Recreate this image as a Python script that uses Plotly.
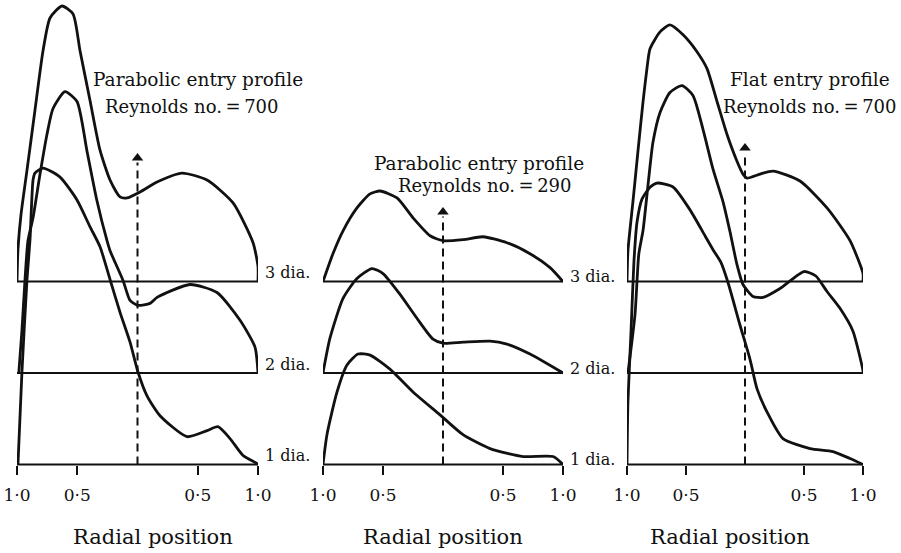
import plotly.graph_objects as go

# ---------------- data (radial position r: -1 = left wall, +1 = right wall;
# v = velocity height above each station's baseline, in baseline-spacing units)
STATIONS = ["1 dia.", "2 dia.", "3 dia."]
STATION_OFFSET = [0.0, 1.0, 2.0]

# Panel 1: Parabolic entry profile, Re = 700
P1_R1 = [-0.992, -0.959, -0.917, -0.892, -0.867, -0.851, -0.784, -0.643, -0.502, -0.394, -0.311, -0.228,
         -0.145, -0.062, 0.004, 0.079, 0.187, 0.411, 0.577, 0.668, 0.768, 0.876, 0.992, 1.0]
P1_V1 = [0.0, 1.011, 2.022, 2.457, 3.109, 3.185, 3.239, 3.141, 2.891, 2.598, 2.380, 2.022,
         1.663, 1.337, 1.011, 0.750, 0.533, 0.304, 0.370, 0.413, 0.283, 0.098, 0.011, 0.0]
P1_R2 = [-0.985, -0.959, -0.934, -0.909, -0.867, -0.809, -0.751, -0.701, -0.602, -0.502, -0.419, -0.336,
         -0.253, -0.228, -0.120, -0.062, 0.004, 0.104, 0.162, 0.436, 0.660, 0.851, 0.975, 1.0]
P1_V2 = [0.0, 0.467, 1.011, 1.446, 1.696, 2.174, 2.609, 2.891, 3.076, 2.967, 2.424, 1.880,
         1.446, 1.337, 1.011, 0.793, 0.739, 0.761, 0.826, 0.967, 0.880, 0.576, 0.283, 0.0]
P1_R3 = [-1.0, -0.992, -0.967, -0.917, -0.851, -0.784, -0.726, -0.627, -0.535, -0.477, -0.394,
         -0.311, -0.228, -0.145, -0.087, 0.021, 0.162, 0.369, 0.577, 0.793, 0.959, 1.0, 1.0]
P1_V3 = [0.0, 0.348, 0.728, 1.217, 1.870, 2.522, 2.880, 3.011, 2.924, 2.522, 1.978,
         1.435, 1.109, 0.924, 0.913, 0.978, 1.087, 1.185, 1.109, 0.859, 0.424, 0.163, 0.0]

# Panel 2: Parabolic entry profile, Re = 290
P2_R1 = [-1.0, -0.967, -0.883, -0.800, -0.708, -0.608, -0.442, -0.250, -0.025, 0.167, 0.392, 0.667, 0.917, 1.0]
P2_V1 = [0.0, 0.326, 0.793, 1.087, 1.207, 1.196, 1.043, 0.793, 0.543, 0.326, 0.174, 0.087, 0.087, 0.0]
P2_R2 = [-1.0, -0.942, -0.833, -0.717, -0.592, -0.500, -0.358, -0.217, -0.083, 0.0, 0.167, 0.392, 0.533, 0.725, 1.0]
P2_V2 = [0.0, 0.380, 0.815, 1.033, 1.141, 1.087, 0.859, 0.598, 0.370, 0.326, 0.337, 0.348, 0.315, 0.207, 0.0]
P2_R3 = [-1.0, -0.917, -0.833, -0.717, -0.608, -0.525, -0.383, -0.250, -0.108, 0.0, 0.167, 0.333, 0.533, 0.725, 0.892, 1.0]
P2_V3 = [0.0, 0.304, 0.554, 0.804, 0.957, 0.989, 0.913, 0.696, 0.500, 0.446, 0.457, 0.489, 0.424, 0.304, 0.152, 0.0]

# Panel 3: Flat entry profile, Re = 700
P3_R1 = [-1.0, -0.992, -0.966, -0.941, -0.915, -0.873, -0.805, -0.746, -0.610, -0.466, -0.339, -0.271, -0.203,
         -0.144, -0.042, 0.042, 0.102, 0.186, 0.322, 0.551, 0.746, 0.890, 1.0]
P3_V1 = [0.0, 0.685, 1.450, 2.220, 2.650, 2.900, 3.030, 3.076, 3.033, 2.783, 2.500, 2.348, 2.207,
         1.989, 1.522, 1.152, 0.826, 0.576, 0.283, 0.174, 0.141, 0.065, 0.0]
P3_R2 = [-0.992, -0.932, -0.900, -0.864, -0.822, -0.780, -0.720, -0.636, -0.534, -0.441, -0.356, -0.271,
         -0.186, -0.127, -0.068, -0.017, 0.068, 0.153, 0.297, 0.500, 0.600, 0.695, 0.805, 0.915, 1.0, 1.0]
P3_V2 = [0.0, 0.641, 1.300, 1.560, 2.054, 2.522, 2.848, 3.065, 3.141, 3.033, 2.663, 2.228,
         1.870, 1.543, 1.185, 0.967, 0.837, 0.826, 0.924, 1.109, 1.060, 0.891, 0.707, 0.457, 0.022, 0.0]
P3_R3 = [-1.0, -0.992, -0.949, -0.907, -0.864, -0.831, -0.805, -0.720, -0.636, -0.525, -0.407, -0.322,
         -0.237, -0.153, -0.068, -0.017, 0.017, 0.127, 0.237, 0.466, 0.695, 0.890, 1.0, 1.0]
P3_V3 = [0.0, 0.337, 0.880, 1.424, 1.967, 2.326, 2.543, 2.728, 2.804, 2.696, 2.511, 2.326,
         1.967, 1.609, 1.315, 1.174, 1.130, 1.174, 1.207, 1.098, 0.804, 0.446, 0.087, 0.0]

# dashed centreline arrows (height of arrow tip above the 1 dia. baseline)
ARROW_TOP = [3.35, 2.76, 3.46]

PANEL_TITLES = [["Parabolic entry profile", "Reynolds no.\u2009=\u2009700"],
                ["Parabolic entry profile", "Reynolds no.\u2009=\u2009290"],
                ["Flat entry profile", "Reynolds no.\u2009=\u2009700"]]
TICK_VALS = [-1.0, -0.5, 0.5, 1.0]
TICK_TEXT = ["1\u00b70", "0\u00b75", "0\u00b75", "1\u00b70"]
X_TITLE = "Radial position"

PANELS = [
    [(P1_R1, P1_V1), (P1_R2, P1_V2), (P1_R3, P1_V3)],
    [(P2_R1, P2_V1), (P2_R2, P2_V2), (P2_R3, P2_V3)],
    [(P3_R1, P3_V1), (P3_R2, P3_V2), (P3_R3, P3_V3)],
]

# ---------------- layout geometry
W, H = 901, 553
FONT = "DejaVu Serif"
INK = "#111111"
X_DOMAINS_PX = [(17, 258), (323, 563), (627, 863)]
BASE_PX = 464.5          # pixel row of the 1 dia. baseline
SPACING_PX = 91.5        # pixel distance between station baselines
Y_RANGE = [-(H - BASE_PX) / SPACING_PX, BASE_PX / SPACING_PX]


def px(x):
    return x / W


def py(y):
    return 1 - y / H


fig = go.Figure()

for p, panel in enumerate(PANELS):
    xa = "x" if p == 0 else f"x{p + 1}"
    for s, off in enumerate(STATION_OFFSET):
        fig.add_trace(go.Scatter(x=[-1, 1], y=[off, off], xaxis=xa, yaxis="y", mode="lines",
                                 line=dict(color=INK, width=2), hoverinfo="skip", showlegend=False))
    for s, (rr, vv) in enumerate(panel):
        fig.add_trace(go.Scatter(x=rr, y=[STATION_OFFSET[s] + v for v in vv], xaxis=xa, yaxis="y",
                                 mode="lines", line=dict(color=INK, width=2.8, shape="spline", smoothing=0.6),
                                 name=STATIONS[s], showlegend=False))
    fig.add_trace(go.Scatter(x=[0, 0], y=[0, ARROW_TOP[p] - 0.05], xaxis=xa, yaxis="y", mode="lines",
                             line=dict(color=INK, width=2, dash="8px,5px"), hoverinfo="skip", showlegend=False))
    fig.add_trace(go.Scatter(x=[0], y=[ARROW_TOP[p]], xaxis=xa, yaxis="y", mode="markers",
                             marker=dict(symbol="triangle-up", size=10, color=INK), hoverinfo="skip",
                             showlegend=False, cliponaxis=False))

    d0, d1 = X_DOMAINS_PX[p]
    fig.layout[("xaxis" if p == 0 else f"xaxis{p + 1}")] = dict(
        domain=[px(d0), px(d1)], range=[-1, 1], anchor="free", position=1 - BASE_PX / H,
        tickvals=TICK_VALS, ticktext=TICK_TEXT, ticks="outside", ticklen=9, tickwidth=2,
        tickcolor=INK, showgrid=False, zeroline=False, showline=False, ticklabelstandoff=6,
        ticklabeloverflow="allow",
        tickfont=dict(family=FONT, size=17, color=INK), fixedrange=True, automargin=False)

# station labels (right of panels 1 and 2)
for p, xpos, lift in [(0, 263, 9), (1, 568, 5)]:
    for s, off in enumerate(STATION_OFFSET):
        fig.add_annotation(xref="paper", yref="y", x=px(xpos), y=off, text=STATIONS[s],
                           showarrow=False, xanchor="left", yanchor="middle", yshift=lift,
                           font=dict(family=FONT, size=16, color=INK))

# panel titles
TITLE_POS = [(198, 80, 192, 107), (479, 163, 485, 185), (810, 80, 810, 107)]
for p, (x1, y1, x2, y2) in enumerate(TITLE_POS):
    fig.add_annotation(xref="paper", yref="paper", x=px(x1), y=py(y1), text=PANEL_TITLES[p][0],
                       showarrow=False, xanchor="center", yanchor="middle",
                       font=dict(family=FONT, size=18.5, color=INK))
    fig.add_annotation(xref="paper", yref="paper", x=px(x2), y=py(y2), text=PANEL_TITLES[p][1],
                       showarrow=False, xanchor="center", yanchor="middle",
                       font=dict(family=FONT, size=18, color=INK))

# x titles
for xx in [153, 443, 730]:
    fig.add_annotation(xref="paper", yref="paper", x=px(xx), y=py(537), text=X_TITLE,
                       showarrow=False, xanchor="center", yanchor="middle",
                       font=dict(family=FONT, size=21, color=INK))

fig.update_layout(
    width=W, height=H, margin=dict(l=0, r=0, t=0, b=0),
    paper_bgcolor="white", plot_bgcolor="white", showlegend=False,
    yaxis=dict(domain=[0, 1], range=Y_RANGE, visible=False, fixedrange=True),
)

# the page's default 8px body margin would push the figure off the window
fig.write_html("out.html", config={"displayModeBar": False},
               post_script="document.body.style.margin='0';")
